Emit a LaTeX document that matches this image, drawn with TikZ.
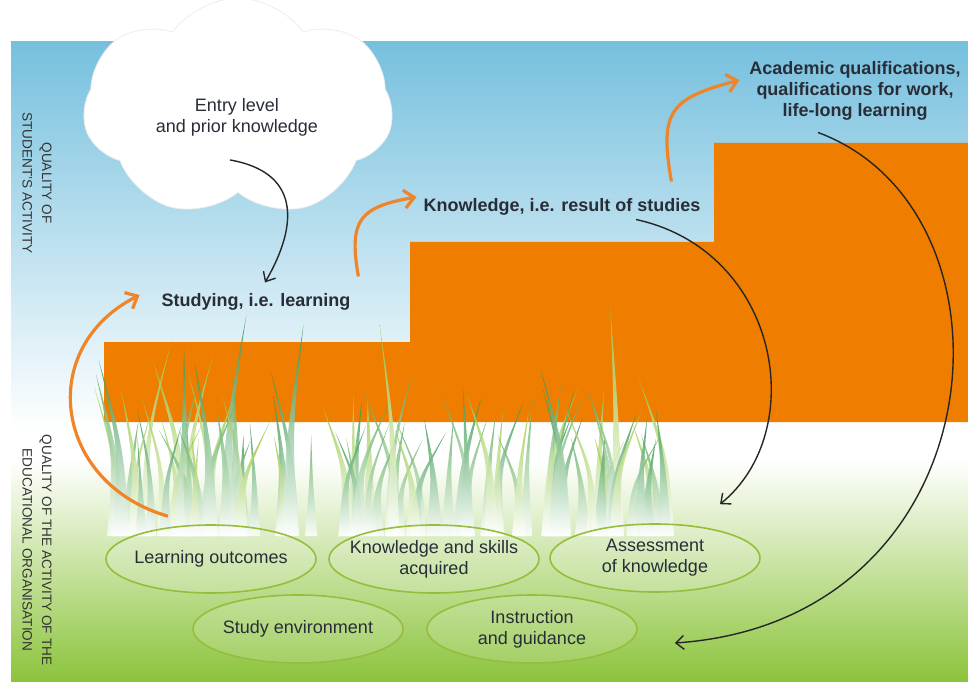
\documentclass[tikz,border=0pt]{standalone}
\usepackage{fontspec}
\setmainfont{Liberation Sans}
\usetikzlibrary{arrows.meta,shapes,positioning}

\definecolor{skyblue}{RGB}{118,192,222}
\definecolor{stepor}{RGB}{238,125,0}
\definecolor{arrowor}{RGB}{240,132,40}
\definecolor{grassgr}{RGB}{140,196,60}
\definecolor{ringgr}{RGB}{150,190,60}
\definecolor{inkgray}{RGB}{40,45,55}
\definecolor{blade0}{RGB}{50,148,72}
\definecolor{blade1}{RGB}{150,200,70}
\definecolor{blade2}{RGB}{92,172,92}

\begin{document}
\begin{tikzpicture}[x=0.5pt, y=0.5pt,
  every node/.style={text=inkgray, font=\fontsize{9}{10.5}\selectfont},
  topic/.style={font=\fontsize{9}{10.5}\selectfont\bfseries, align=center},
  ring/.style={ellipse, draw=ringgr, line width=0.8pt, fill=white, fill opacity=0.15, text opacity=1,
    inner xsep=-10pt, inner ysep=0pt, minimum width=105pt, minimum height=34pt, align=center},
  side/.style={rotate=-90, align=center, font=\fontsize{6.8}{9.8}\selectfont, text=black!80},
  link/.style={->, >={Straight Barb[length=4pt,width=7pt]}, line width=0.7pt, black!85},
  climb/.style={->, >={Straight Barb[length=5pt,width=9pt]}, line width=1.6pt, arrowor}]

  \useasboundingbox (0,0) rectangle (968,681);
  % sky and meadow
  \shade[top color=skyblue, bottom color=white] (11,251) rectangle (968,639);
  \shade[top color=white, middle color=grassgr!40, bottom color=grassgr] (11,0) rectangle (968,221);

  % the steps
  \fill[stepor] (104,259) -- (104,339) -- (410,339) -- (410,439) -- (714,439)
    -- (714,538) -- (968,538) -- (968,259) -- cycle;

  % grass
  \pgfmathsetseed{4}
  \foreach \i in {1,...,100}{
    \pgfmathsetmacro\bladex{115+570*rnd}
    \pgfmathsetmacro\bladetop{240+150*rnd*rnd}
    \pgfmathsetmacro\bladelean{-30+60*rnd}
    \pgfmathsetmacro\bladewidth{5+4*rnd}
    \pgfmathsetmacro\blademid{(145+\bladetop)/2}
    \pgfmathtruncatemacro\bladecol{3*rnd}
    \shade[top color=blade\bladecol, middle color=blade\bladecol!70, bottom color=white, fill opacity=0.85]
      (\bladex-\bladewidth,145) .. controls (\bladex-0.3*\bladewidth,\blademid) .. (\bladex+\bladelean,\bladetop)
      .. controls (\bladex+0.3*\bladewidth,\blademid) .. (\bladex+\bladewidth,145) -- cycle;
  }

  \node[cloud, cloud puffs=7, cloud puff arc=110, aspect=1.5, fill=white, draw=black!7,
    minimum width=155pt, minimum height=110pt] (puff) at (238,573) {};
  \node[align=center] (entry) at (237,564) {Entry level\\and prior knowledge};

  \node[topic] (study) at (256,379) {Studying, i.e. learning};
  \node[topic] (knowl) at (562,474) {Knowledge, i.e. result of studies};
  \node[topic] (qual) at (855,590) {Academic qualifications,\\qualifications for work,\\life-long learning};

  \node[ring] (outc) at (211,122) {Learning outcomes};
  \node[ring] (skill) at (434,122) {Knowledge and skills\\acquired};
  \node[ring] (assess) at (655,123) {Assessment\\of knowledge};
  \node[ring] (envir) at (298,52) {Study environment};
  \node[ring] (guide) at (532,52) {Instruction\\and guidance};

  \node[side] (upper) at (37,498) {QUALITY OF\\STUDENT'S ACTIVITY};
  \node[side] (lower) at (37,131) {QUALITY OF THE ACTIVITY OF THE\\EDUCATIONAL ORGANISATION};

  \draw[link] ([shift={(-7,-17)}]entry.south) to[out=-10, in=60, looseness=1.4] ([shift={(9,4)}]study.north);
  \draw[link] ([shift={(74,3)}]knowl.south) .. controls (780,430) and (810,250) .. ([shift={(65,19)}]assess.north);
  \draw[link] ([shift={(-37,-5)}]qual.south) .. controls (1030,470) and (1000,60) .. ([shift={(37,-14)}]guide.east);

  \draw[climb] ([shift={(-43,8)}]outc.north) to[out=164, in=207, looseness=1.35] ([shift={(-15,7)}]study.west);
  \draw[climb] ([shift={(1,10)}]study.north east) to[out=100, in=190, looseness=1.5] ([shift={(0,10)}]knowl.west);
  \draw[climb] ([shift={(-36,10)}]knowl.north east) to[out=100, in=195, looseness=1.5] ([shift={(-3,11)}]qual.west);
\end{tikzpicture}
\end{document}
